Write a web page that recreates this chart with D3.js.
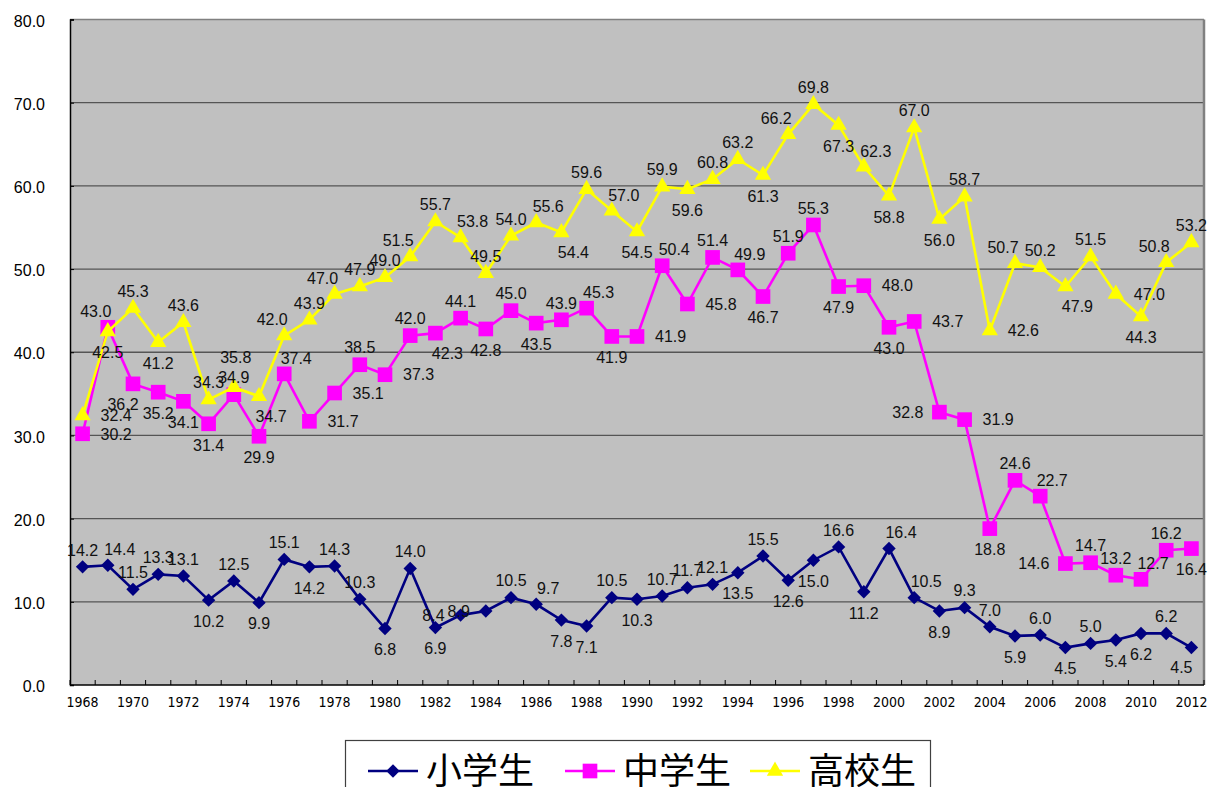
<!DOCTYPE html>
<html>
<head>
<meta charset = 'utf-8'>
<script src = 'https://d3js.org/d3.v7.min.js'></script>
<style>
body { margin: 0; background: #fff; }
</style>
</head>
<body>
<div id="my_dataviz"></div>
<script>
// years 1968-2012
var years = d3.range(1968, 2013);
var yTicks = [0, 10, 20, 30, 40, 50, 60, 70, 80];

var elementary = [14.2, 14.4, 11.5, 13.3, 13.1, 10.2, 12.5, 9.9, 15.1, 14.2, 14.3, 10.3, 6.8, 14.0, 6.9,
  8.4, 8.9, 10.5, 9.7, 7.8, 7.1, 10.5, 10.3, 10.7, 11.7, 12.1, 13.5, 15.5, 12.6, 15.0,
  16.6, 11.2, 16.4, 10.5, 8.9, 9.3, 7.0, 5.9, 6.0, 4.5, 5.0, 5.4, 6.2, 6.2, 4.5];
var juniorHigh = [30.2, 43.0, 36.2, 35.2, 34.1, 31.4, 34.9, 29.9, 37.4, 31.7, 35.1, 38.5, 37.3, 42.0, 42.3,
  44.1, 42.8, 45.0, 43.5, 43.9, 45.3, 41.9, 41.9, 50.4, 45.8, 51.4, 49.9, 46.7, 51.9, 55.3,
  47.9, 48.0, 43.0, 43.7, 32.8, 31.9, 18.8, 24.6, 22.7, 14.6, 14.7, 13.2, 12.7, 16.2, 16.4];
var highSchool = [32.4, 42.5, 45.3, 41.2, 43.6, 34.3, 35.8, 34.7, 42.0, 43.9, 47.0, 47.9, 49.0, 51.5, 55.7,
  53.8, 49.5, 54.0, 55.6, 54.4, 59.6, 57.0, 54.5, 59.9, 59.6, 60.8, 63.2, 61.3, 66.2, 69.8,
  67.3, 62.3, 58.8, 67.0, 56.0, 58.7, 42.6, 50.7, 50.2, 47.9, 51.5, 47.0, 44.3, 50.8, 53.2];

// where each data label sits relative to its marker (a above, b below, r right, l left)
var posElem = ['a','ar','a','a','a','b','a','b','a','b','a','a','b','a','b','l','l','a','ar','b','b','a','b',
  'a','a','a','b','a','b','b','a','b','ar','ar','b','a','a','b','a','b','a','b','b','a','bl'];
var posJunior = ['r','al','bl','b','b','b','a','b','ar','r','r','a','r','a','br','a','b','a','b','a','ar','b','r',
  'ar','r','a','ar','b','a','a','b','r','b','r','l','r','b','a','ar','l','a','a','ar','a','b'];
var posHigh = ['r','b','a','b','a','a','aa','br','al','a','al','a','a','al','a','ar','a','a','ar','br','a','ar','b',
  'a','b','a','a','b','al','a','b','ar','b','a','b','a','r','al','a','br','a','r','b','al','a'];

var series = [
  {name: '小学生', values: elementary, pos: posElem, color: '#000080', symbol: 'diamond'},
  {name: '中学生', values: juniorHigh, pos: posJunior, color: '#FF00FF', symbol: 'square'},
  {name: '高校生', values: highSchool, pos: posHigh, color: '#FFFF00', symbol: 'triangle'}
];

var W = 1212, H = 787;
var plot = {left: 70, right: 1204, top: 19.5, bottom: 685};

var svg = d3.select('#my_dataviz')
  .append('svg')
  .attr('width', W)
  .attr('height', H);

var x = d3.scaleBand()
  .domain(years)
  .range([plot.left, plot.right]);

var y = d3.scaleLinear()
  .domain([0, 80])
  .range([plot.bottom, plot.top]);

// plot background
svg.append('rect')
  .attr('x', plot.left).attr('y', plot.top)
  .attr('width', plot.right - plot.left).attr('height', plot.bottom - plot.top)
  .style('fill', '#C0C0C0');

// gridlines
svg.append('g')
  .selectAll('line')
  .data(yTicks.filter(function(d) { return d > 0 && d < 80; }))
  .enter()
  .append('line')
  .attr('x1', plot.left).attr('x2', plot.right)
  .attr('y1', function(d) { return y(d); })
  .attr('y2', function(d) { return y(d); })
  .style('stroke', '#555')
  .style('stroke-width', 1.3);

// top and right border
svg.append('line')
  .attr('x1', plot.left).attr('x2', plot.right)
  .attr('y1', plot.top).attr('y2', plot.top)
  .style('stroke', '#808080').style('stroke-width', 1.5);
svg.append('line')
  .attr('x1', plot.right).attr('x2', plot.right)
  .attr('y1', plot.top).attr('y2', plot.bottom)
  .style('stroke', '#808080').style('stroke-width', 2.5);

// y axis
var yAxis = svg.append('g')
  .attr('transform', 'translate(' + plot.left + ',0)')
  .call(d3.axisLeft(y).tickValues(yTicks).tickSize(-4).tickFormat(d3.format('.1f')));
yAxis.select('.domain').style('stroke', '#000').style('stroke-width', 1.5);
yAxis.selectAll('.tick line').style('stroke', '#000');
yAxis.selectAll('text')
  .attr('x', -25)
  .attr('dy', '0.42em')
  .style('font-family', '"Liberation Sans", Arial, sans-serif')
  .style('font-size', '16px')
  .style('fill', '#000');

// x axis: ticks at category boundaries, labels every 2 years
var xAxis = svg.append('g')
  .attr('transform', 'translate(0,' + plot.bottom + ')');
xAxis.append('line')
  .attr('x1', plot.left).attr('x2', plot.right)
  .style('stroke', '#000').style('stroke-width', 1.5);
xAxis.selectAll('.bt')
  .data(years.concat([2013]))
  .enter()
  .append('line')
  .attr('class', 'bt')
  .attr('x1', function(d) { return d < 2013 ? x(d) : plot.right; })
  .attr('x2', function(d) { return d < 2013 ? x(d) : plot.right; })
  .attr('y1', 0).attr('y2', -5)
  .style('stroke', '#000');
xAxis.selectAll('text')
  .data(years.filter(function(d) { return d % 2 === 0; }))
  .enter()
  .append('text')
  .attr('x', function(d) { return x(d) + x.bandwidth() / 2; })
  .attr('y', 17)
  .attr('dy', '0.35em')
  .attr('text-anchor', 'middle')
  .style('font-family', '"Liberation Sans Narrow", "DejaVu Sans Condensed", "Arial Narrow", sans-serif')
  .style('font-stretch', 'condensed')
  .style('font-size', '14px')
  .style('fill', '#000')
  .text(function(d) { return d; });

function cx(i) { return x(years[i]) + x.bandwidth() / 2; }

function symbolPath(kind) {
  if (kind === 'diamond') return d3.symbol().type(d3.symbolSquare).size(90)();
  if (kind === 'square') return d3.symbol().type(d3.symbolSquare).size(215)();
  return d3.symbol().type(d3.symbolTriangle).size(115)();
}

var line = d3.line()
  .x(function(d, i) { return cx(i); })
  .y(function(d) { return y(d); });

series.forEach(function(s) {
  var g = svg.append('g');
  g.append('path')
    .datum(s.values)
    .attr('d', line)
    .style('fill', 'none')
    .style('stroke', s.color)
    .style('stroke-width', 2.6);
  g.selectAll('path.m')
    .data(s.values)
    .enter()
    .append('path')
    .attr('class', 'm')
    .attr('d', symbolPath(s.symbol))
    .attr('transform', function(d, i) {
      return 'translate(' + cx(i) + ',' + y(d) + ')' + (s.symbol === 'diamond' ? ' rotate(45)' : '');
    })
    .style('fill', s.color);
});

// data labels
var offsets = {
  a:  [0, -17, 'middle'],
  aa: [2, -30, 'middle'],
  b:  [0, 21, 'middle'],
  r:  [18, 0, 'start'],
  l:  [-16, 0, 'end'],
  ar: [12, -16, 'middle'],
  al: [-12, -16, 'middle'],
  br: [12, 20, 'middle'],
  bl: [-10, 20, 'middle']
};
series.forEach(function(s) {
  svg.append('g')
    .selectAll('text')
    .data(s.values)
    .enter()
    .append('text')
    .attr('x', function(d, i) { return cx(i) + offsets[s.pos[i]][0]; })
    .attr('y', function(d, i) { return y(d) + offsets[s.pos[i]][1]; })
    .attr('dy', '0.36em')
    .attr('text-anchor', function(d, i) { return offsets[s.pos[i]][2]; })
    .style('font-family', '"Liberation Sans", Arial, sans-serif')
    .style('font-size', '16px')
    .style('fill', '#111')
    .text(function(d) { return d.toFixed(1); });
});

// legend
var legend = svg.append('g');
legend.append('rect')
  .attr('x', 345.5).attr('y', 740.5)
  .attr('width', 585).attr('height', 70)
  .style('fill', '#fff')
  .style('stroke', '#404040')
  .style('stroke-width', 1.2);
var legendX = [368, 565, 750];
series.forEach(function(s, i) {
  var lx = legendX[i], ly = 771;
  legend.append('line')
    .attr('x1', lx).attr('x2', lx + 50)
    .attr('y1', ly).attr('y2', ly)
    .style('stroke', s.color).style('stroke-width', 2.6);
  legend.append('path')
    .attr('d', symbolPath(s.symbol))
    .attr('transform', 'translate(' + (lx + 25) + ',' + ly + ')' + (s.symbol === 'diamond' ? ' rotate(45)' : ''))
    .style('fill', s.color);
  legend.append('text')
    .attr('x', lx + 58)
    .attr('y', ly)
    .attr('dy', '0.36em')
    .style('font-family', '"Noto Sans CJK JP", sans-serif')
    .style('font-size', '36px')
    .style('fill', '#000')
    .text(s.name);
});
</script>
</body>
</html>
